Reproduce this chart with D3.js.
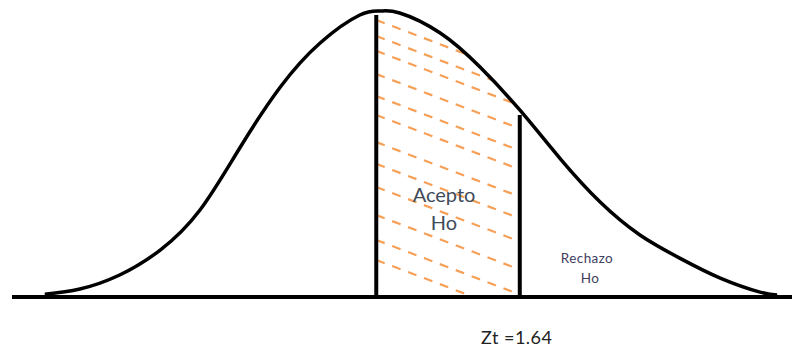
<!DOCTYPE html>
<html>
<head>
<meta charset="utf-8">
<script src="https://cdn.jsdelivr.net/npm/d3@7"></script>
<style>
  html, body { margin: 0; padding: 0; background: #ffffff; }
  svg { display: block; }
</style>
</head>
<body>
<svg id="chart" width="792" height="352"></svg>
<script>
// curve: horizontal position (0-100) and height (% of peak)
const curveX = [4.2, 8.7, 13.8, 19.0, 24.1, 29.2, 34.4, 39.5, 44.6, 47.2,
                49.7, 54.9, 60.0, 65.1, 70.3, 75.4, 80.5, 85.6, 90.8, 95.9, 98.1];
const curveY = [1.0, 2.8, 7.7, 16.4, 30.4, 52.1, 73.4, 88.8, 98.6, 100,
                99.3, 92.3, 80.4, 65.4, 48.3, 33.2, 21.7, 13.6, 6.6, 1.7, 0.7];

// left edge (mean) and right edge (Zt) of the acceptance region
const markX = [46.7, 65.1];
const markTop = [98.6, 63.6];

// hatch lines: height where each one leaves the left edge
const hatchStart = [95.8, 90.2, 85.0, 76.9, 69.2, 62.6, 53.1, 45.5, 37.4, 27.6, 18.9, 11.9];
const hatchDrop = 17.5;   // fall of each hatch line across the region

const labelAccept = ["Acepto", "Ho"];
const labelReject = ["Rechazo", "Ho"];
const labelZ = "Zt =1.64";

const svg = d3.select("#chart");

const x = d3.scaleLinear().domain([0, 100]).range([12, 792]);
const y = d3.scaleLinear().domain([0, 100]).range([297, 11]);

const pts = curveX.map((d, i) => ({x: d, y: curveY[i]}));

const line = d3.line()
    .x(d => x(d.x))
    .y(d => y(d.y))
    .curve(d3.curveNatural);

const area = d3.area()
    .x(d => x(d.x))
    .y0(y(0))
    .y1(d => y(d.y))
    .curve(d3.curveNatural);

// clip for hatching: under curve, between the two marks
const defs = svg.append("defs");
defs.append("clipPath").attr("id", "hatchclip")
  .append("path").attr("d", area(pts));
defs.append("clipPath").attr("id", "bandclip")
  .append("rect")
    .attr("x", x(markX[0]))
    .attr("y", 0)
    .attr("width", x(markX[1]) - x(markX[0]))
    .attr("height", y(0));

svg.append("g")
    .attr("clip-path", "url(#bandclip)")
  .append("g")
    .attr("clip-path", "url(#hatchclip)")
  .selectAll("line")
  .data(hatchStart)
  .join("line")
    .attr("x1", x(markX[0]))
    .attr("y1", d => y(d) - 3)
    .attr("x2", x(markX[1]) + 4)
    .attr("y2", d => y(d - hatchDrop) + 3)
    .style("stroke", "#f5a058")
    .style("stroke-width", 2.2)
    .style("stroke-dasharray", "9,8");

// baseline
svg.append("line")
    .attr("x1", x(0))
    .attr("x2", x(100))
    .attr("y1", y(0))
    .attr("y2", y(0))
    .style("stroke", "#000")
    .style("stroke-width", 4);

// bell curve
svg.append("path")
    .attr("d", line(pts))
    .style("fill", "none")
    .style("stroke", "#000")
    .style("stroke-width", 3.5);

// vertical marks
svg.selectAll("line.mark")
  .data(markX)
  .join("line")
    .attr("class", "mark")
    .attr("x1", d => x(d))
    .attr("x2", d => x(d))
    .attr("y1", (d, i) => y(markTop[i]))
    .attr("y2", y(0))
    .style("stroke", "#000")
    .style("stroke-width", 4);

// labels
const accX = (x(markX[0]) + x(markX[1])) / 2 - 4;
svg.selectAll("text.acc")
  .data(labelAccept)
  .join("text")
    .attr("class", "acc")
    .attr("x", accX)
    .attr("y", (d, i) => 202 + i * 28)
    .attr("text-anchor", "middle")
    .style("font-family", "Lato, 'Open Sans', sans-serif")
    .style("font-size", "20px")
    .style("fill", "#404b5a")
    .text(d => d);

svg.selectAll("text.rej")
  .data(labelReject)
  .join("text")
    .attr("class", "rej")
    .attr("x", (d, i) => i === 0 ? 587 : 590)
    .attr("y", (d, i) => 263 + i * 20)
    .attr("text-anchor", "middle")
    .style("font-family", "Lato, 'Open Sans', sans-serif")
    .style("font-size", "13.5px")
    .style("letter-spacing", "0.4px")
    .style("fill", "#404060")
    .text(d => d);

svg.append("text")
    .attr("x", x(markX[1]) - 3)
    .attr("y", 344)
    .attr("text-anchor", "middle")
    .style("font-family", "Lato, 'Open Sans', sans-serif")
    .style("font-size", "18px")
    .style("letter-spacing", "0.5px")
    .style("fill", "#222")
    .text(labelZ);
</script>
</body>
</html>
